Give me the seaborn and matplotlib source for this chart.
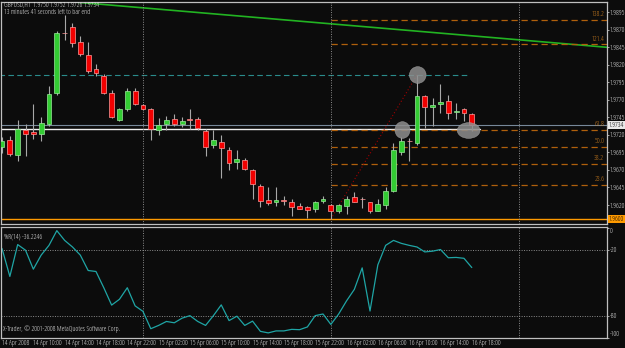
import matplotlib
matplotlib.use("Agg")
import matplotlib.pyplot as plt
import matplotlib.transforms as mtransforms
from matplotlib import font_manager
from matplotlib.font_manager import FontProperties
from matplotlib.textpath import TextPath
from matplotlib.patches import Ellipse
import numpy as np
import pandas as pd
import seaborn as sns

# ---------------- data ----------------
time_labels = ["14 Apr 2008", "14 Apr 10:00", "14 Apr 14:00", "14 Apr 18:00", "14 Apr 22:00",
               "15 Apr 02:00", "15 Apr 06:00", "15 Apr 10:00", "15 Apr 14:00", "15 Apr 18:00",
               "15 Apr 22:00", "16 Apr 02:00", "16 Apr 06:00", "16 Apr 10:00", "16 Apr 14:00",
               "16 Apr 18:00"]
open_ = [1.9703, 1.9713, 1.9691, 1.9727, 1.9724, 1.9721, 1.9736, 1.9780, 1.9866, 1.9874,
         1.9853, 1.9834, 1.9814, 1.9804, 1.9780, 1.9742, 1.9757, 1.9783, 1.9763, 1.9757,
         1.9727, 1.9735, 1.9743, 1.9735, 1.9743, 1.9743, 1.9726, 1.9705, 1.9710, 1.9699,
         1.9682, 1.9684, 1.9670, 1.9647, 1.9627, 1.9625, 1.9627, 1.9624, 1.9619, 1.9617,
         1.9615, 1.9626, 1.9620, 1.9611, 1.9618, 1.9631, 1.9629, 1.9624, 1.9612, 1.9620,
         1.9640, 1.9696, 1.9712, 1.9708, 1.9776, 1.9760, 1.9764, 1.9769, 1.9753, 1.9757,
         1.9750]
high = [1.9717, 1.9719, 1.9741, 1.9735, 1.9764, 1.9746, 1.9790, 1.9868, 1.9891, 1.9880,
        1.9861, 1.9853, 1.9821, 1.9807, 1.9784, 1.9759, 1.9787, 1.9787, 1.9764, 1.9759,
        1.9744, 1.9747, 1.9750, 1.9745, 1.9757, 1.9746, 1.9728, 1.9727, 1.9720, 1.9703,
        1.9699, 1.9687, 1.9671, 1.9650, 1.9645, 1.9645, 1.9633, 1.9629, 1.9623, 1.9619,
        1.9626, 1.9633, 1.9621, 1.9621, 1.9633, 1.9638, 1.9631, 1.9625, 1.9629, 1.9646,
        1.9708, 1.9717, 1.9715, 1.9806, 1.9777, 1.9772, 1.9792, 1.9777, 1.9766, 1.9759,
        1.9752]
low = [1.9694, 1.9690, 1.9683, 1.9690, 1.9714, 1.9712, 1.9733, 1.9777, 1.9856, 1.9845,
       1.9833, 1.9808, 1.9804, 1.9778, 1.9744, 1.9740, 1.9754, 1.9763, 1.9756, 1.9713,
       1.9720, 1.9727, 1.9733, 1.9732, 1.9728, 1.9727, 1.9690, 1.9701, 1.9659, 1.9670,
       1.9671, 1.9670, 1.9629, 1.9617, 1.9620, 1.9619, 1.9620, 1.9605, 1.9614, 1.9601,
       1.9610, 1.9623, 1.9600, 1.9608, 1.9607, 1.9624, 1.9616, 1.9609, 1.9611, 1.9614,
       1.9638, 1.9691, 1.9683, 1.9705, 1.9730, 1.9733, 1.9751, 1.9743, 1.9743, 1.9740,
       1.9726]
close = [1.9711, 1.9693, 1.9728, 1.9722, 1.9722, 1.9737, 1.9778, 1.9866, 1.9865, 1.9851,
         1.9836, 1.9811, 1.9808, 1.9780, 1.9745, 1.9757, 1.9783, 1.9764, 1.9757, 1.9729,
         1.9734, 1.9741, 1.9736, 1.9740, 1.9741, 1.9730, 1.9703, 1.9713, 1.9701, 1.9680,
         1.9685, 1.9671, 1.9650, 1.9626, 1.9623, 1.9627, 1.9626, 1.9617, 1.9615, 1.9613,
         1.9625, 1.9628, 1.9612, 1.9620, 1.9628, 1.9625, 1.9628, 1.9611, 1.9621, 1.9640,
         1.9699, 1.9711, 1.9711, 1.9776, 1.9760, 1.9762, 1.9767, 1.9751, 1.9754, 1.9751,
         1.9734]
wpr = [-19.0, -44.4, -15.4, -20.5, -37.8, -25.0, -16.1, -2.7, -11.6, -17.6,
       -25.0, -39.0, -39.9, -54.7, -70.5, -65.2, -54.7, -71.2, -76.2, -92.0,
       -89.0, -85.4, -86.6, -82.4, -80.1, -85.4, -89.0, -80.1, -70.3, -84.6,
       -80.6, -89.0, -85.1, -94.4, -95.8, -94.0, -94.0, -92.6, -92.9, -90.4,
       -80.1, -78.6, -88.1, -78.6, -66.7, -56.2, -36.6, -75.9, -33.9, -16.1,
       -11.6, -14.3, -16.1, -17.6, -22.1, -21.4, -19.9, -27.4, -27.1, -27.9,
       -36.3]
price_ticks = [1.9620, 1.9645, 1.9670, 1.9695, 1.9720, 1.9745, 1.9770, 1.9795,
               1.9820, 1.9845, 1.9870, 1.9895]
wpr_ticks = [0, -20, -80, -100]
wpr_levels = [-20, -80]
day_breaks = [18, 42, 66]
bid = 1.9734
hline_orange = 1.9600
hline_white = 1.9728
hline_teal = 1.98055
fib_low_bar, fib_low = 42, 1.9600
fib_high_bar, fib_high = 53, 1.98055
fib_levels = [0.236, 0.382, 0.5, 0.618, 1.214, 1.382]
fib_names = ["23.6", "38.2", "50.0", "61.8", "121.4", "138.2"]
trend_x = [8.9, 77.3]
trend_y = [1.9910, 1.9845]
marks_x = [53.1, 51.15, 59.6]
marks_y = [1.98055, 1.9727, 1.97263]
marks_w = [2.13, 1.92, 2.9]
marks_h = [0.00238, 0.00238, 0.00224]

df = pd.DataFrame({"bar": np.arange(len(close)), "open": open_, "high": high,
                   "low": low, "close": close, "wpr": wpr})

# ---------------- style ----------------
BG = "#0c0c0c"
FG = "#e6e6e6"
GRID = "#8c8c8c"
sns.set_theme(style="dark", rc={"axes.facecolor": BG, "figure.facecolor": BG,
                                "axes.edgecolor": "#bfbfbf", "text.color": FG,
                                "xtick.color": FG, "ytick.color": FG})

# pick the narrowest installed sans font so the tiny terminal-style labels fit
installed = {(f.name, f.stretch) for f in font_manager.fontManager.ttflist}
cands = []
for fam in ["Liberation Sans Narrow", "DejaVu Sans", "Roboto", "Open Sans", "Inter",
            "Lato", "Noto Sans", "Liberation Sans"]:
    for st in ["condensed", "semi-condensed", "normal"]:
        if (fam, st) in installed:
            cands.append((fam, st))

def wpx(s, fam, st, size=10.0):
    tp = TextPath((0, 0), s, size=size, prop=FontProperties(family=fam, stretch=st))
    return tp.get_extents().width * 100.0 / 72.0

best = min(cands, key=lambda c: wpx("14 Apr 10:00", *c))
FAM, STRETCH = best
FS = min(10.0 * 28.0 / wpx("14 Apr 10:00", FAM, STRETCH), 5.4)
FSY = min(FS, 10.0 * 15.5 / wpx("1.9645", FAM, STRETCH))
plt.rcParams["font.family"] = [FAM, "DejaVu Sans"]
plt.rcParams["font.stretch"] = STRETCH

W, H = 625, 348
def rect(x0, y0, x1, y1):
    return [x0 / W, 1 - y1 / H, (x1 - x0) / W, (y1 - y0) / H]

fig = plt.figure(figsize=(6.25, 3.48), dpi=100, facecolor=BG)
ax = fig.add_axes(rect(1, 1.5, 607, 224))
ax2 = fig.add_axes(rect(1, 227, 607, 337.5), sharex=ax)

XL = (-0.13, 77.27)
for a in (ax, ax2):
    a.set_facecolor(BG)
    for s in a.spines.values():
        s.set_color("#bfbfbf")
        s.set_linewidth(0.9)
    a.grid(False)

# ---------------- main pane ----------------
up = df[df.close >= df.open]
dn = df[df.close < df.open]
ax.vlines(df.bar, df.low, df.high, color="#a8a8a8", lw=0.8, zorder=2)
minh = 0.00007
ax.bar(up.bar, np.maximum(up.close - up.open, minh), bottom=up.open, width=0.62,
       color="#33cc33", edgecolor="#9ae89a", linewidth=0.5, zorder=3)
ax.bar(dn.bar, np.maximum(dn.open - dn.close, minh), bottom=dn.close, width=0.62,
       color="#f20000", edgecolor="#ff9a9a", linewidth=0.5, zorder=3)

ax.axhline(hline_orange, color="#ff9a00", lw=1.0, zorder=1)
ax.axhline(bid, color="#778899", lw=0.8, zorder=1)
ax.plot([-0.5, 61.0], [hline_white, hline_white], color="#f0f0f0", lw=1.0, zorder=1)
ax.plot([-0.5, 59.8], [hline_teal, hline_teal], color="#2a8c8c", lw=0.8,
        ls=(0, (5, 3)), zorder=1)
ax.plot(trend_x, trend_y, color="#22b422", lw=1.2, zorder=1)
rng = fib_high - fib_low
for r, name in zip(fib_levels, fib_names):
    p = fib_low + r * rng
    ax.plot([fib_low_bar, XL[1]], [p, p], color="#b0600c", lw=0.9,
            ls=(0, (5, 3)), zorder=1)
    ax.text(76.9, p + 0.00022, name, color="#d08020", fontsize=FS, ha="right",
            va="bottom", zorder=4)
ax.plot([fib_low_bar, fib_high_bar], [fib_low, fib_high], color="#a00000", lw=0.8,
        ls=(0, (1, 2)), zorder=1)
for mx, my, mw, mh in zip(marks_x, marks_y, marks_w, marks_h):
    ax.add_patch(Ellipse((mx, my), mw, mh, facecolor="#8e8e8e", edgecolor="#a0a0a0",
                         lw=0.4, alpha=0.85, zorder=5))

for a in (ax, ax2):
    for d in day_breaks:
        a.axvline(d, color=GRID, lw=0.7, ls=(0, (1, 1.5)), zorder=1)

ax.set_xlim(*XL)
ax.set_ylim(1.95929, 1.99104)
ax.yaxis.tick_right()
ax.set_yticks(price_ticks)
ax.set_yticklabels([f"{t:.4f}" for t in price_ticks], fontsize=FSY)
ax.tick_params(axis="y", length=1.5, width=0.6, color="#bfbfbf", pad=0.6, right=True)
ax.tick_params(axis="x", bottom=False, labelbottom=False)

for val, fc, tc in [(bid, "#e8e8e8", "#000000"), (hline_orange, "#ff9a00", "#000000")]:
    ax.annotate(f"{val:.4f}", xy=(1, val), xycoords=("axes fraction", "data"),
                xytext=(1.2, 0), textcoords="offset points", fontsize=FSY, color=tc,
                va="center", ha="left", annotation_clip=False,
                bbox=dict(boxstyle="square,pad=0.12", fc=fc, ec="none"))

fig.text(4 / W, 1 - 6 / H, "GBPUSD,H1  1.9750 1.9752 1.9726 1.9734", fontsize=FS,
         color=FG, va="center")
fig.text(4 / W, 1 - 13 / H, "13 minutes 41 seconds left to bar end", fontsize=FS,
         color=FG, va="center")

# ---------------- WPR pane ----------------
sns.lineplot(data=df, x="bar", y="wpr", ax=ax2, color="#1fa5a5", lw=0.9)
for lv in wpr_levels:
    ax2.axhline(lv, color=GRID, lw=0.7, ls=(0, (1, 1.5)), zorder=1)
ax2.set_ylim(-99.0, 0.6)
ax2.set_xlim(*XL)
ax2.yaxis.tick_right()
ax2.set_yticks(wpr_ticks)
ax2.set_yticklabels([str(t) for t in wpr_ticks], fontsize=FSY)
for lab, t in zip(ax2.get_yticklabels(), wpr_ticks):
    if t == 0:
        lab.set_va("top")
    elif t == -100:
        lab.set_va("bottom")
ax2.tick_params(axis="y", length=1.5, width=0.6, color="#bfbfbf", pad=0.6)
ax2.set_xlabel("")
ax2.set_ylabel("")
ax.set_ylabel("")
xt = list(range(0, 4 * len(time_labels), 4))
ax2.set_xticks(xt)
ax2.set_xticklabels(time_labels, fontsize=FS, ha="left")
off = mtransforms.ScaledTranslation(1.5 / 100, 0, fig.dpi_scale_trans)
for lab in ax2.get_xticklabels():
    lab.set_transform(lab.get_transform() + off)
ax2.tick_params(axis="x", length=1.5, width=0.6, color="#bfbfbf", pad=0.3)
ax2.text(0.005, 0.94, "%R(14) -36.2246", transform=ax2.transAxes, fontsize=FS,
         color=FG, va="top")
ax2.text(0.003, 0.04, "X-Trader, \u00a9 2001-2008 MetaQuotes Software Corp.",
         transform=ax2.transAxes, fontsize=FS, color=FG, va="bottom")

fig.savefig("out.png", dpi=100, facecolor=BG)
